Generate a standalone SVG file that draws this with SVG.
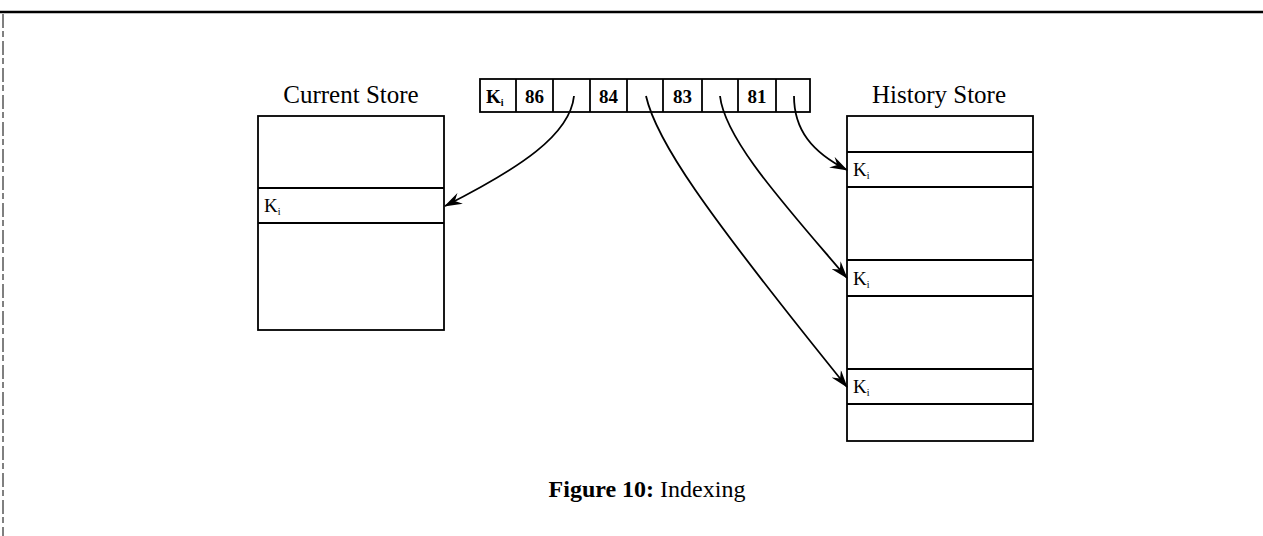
<svg xmlns="http://www.w3.org/2000/svg" width="1263" height="536" viewBox="0 0 1263 536">
<style>
.box{fill:none;stroke:#000;stroke-width:1.8}
.ln{stroke:#000;stroke-width:1.8;fill:none}
.arr{stroke:#000;stroke-width:1.8;fill:none;marker-end:url(#ah)}
.t{font-family:"Liberation Serif","Times New Roman",serif;fill:#000}
.title{font-size:25px}
.cell{font-size:19px;font-weight:bold}
.k{font-size:19px}
.sub{font-size:10px}
.cap{font-size:24px}
</style>
<defs>
<marker id="ah" viewBox="0 0 18 12" refX="17" refY="6" markerWidth="18" markerHeight="12" markerUnits="userSpaceOnUse" orient="auto">
<path d="M0,0 L18,6 L0,12 L6,6 Z" fill="#000"/>
</marker>
</defs>
<rect width="1263" height="536" fill="#fff"/>
<g id="frame">
<line x1="0" y1="12" x2="1263" y2="12" stroke="#000" stroke-width="2.5"/>
<line x1="3" y1="14" x2="3" y2="536" stroke="#000" stroke-width="1" stroke-dasharray="14,3,6,4"/>
</g>
<g id="index">
<rect class="box" x="480" y="79" width="330" height="33"/>
<line class="ln" x1="516" y1="79" x2="516" y2="112"/>
<line class="ln" x1="553" y1="79" x2="553" y2="112"/>
<line class="ln" x1="590" y1="79" x2="590" y2="112"/>
<line class="ln" x1="627" y1="79" x2="627" y2="112"/>
<line class="ln" x1="663" y1="79" x2="663" y2="112"/>
<line class="ln" x1="702" y1="79" x2="702" y2="112"/>
<line class="ln" x1="738" y1="79" x2="738" y2="112"/>
<line class="ln" x1="776" y1="79" x2="776" y2="112"/>
<text class="t cell" x="486" y="103">K<tspan class="sub" dy="3">i</tspan></text>
<text class="t cell" x="534.5" y="103" text-anchor="middle">86</text>
<text class="t cell" x="608.5" y="103" text-anchor="middle">84</text>
<text class="t cell" x="682.5" y="103" text-anchor="middle">83</text>
<text class="t cell" x="757" y="103" text-anchor="middle">81</text>
</g>
<g id="current-store">
<text class="t title" x="351" y="103" text-anchor="middle">Current Store</text>
<rect class="box" x="258" y="116" width="186" height="214"/>
<line class="ln" x1="258" y1="188" x2="444" y2="188"/>
<line class="ln" x1="258" y1="223" x2="444" y2="223"/>
<text class="t k" x="264" y="212">K<tspan class="sub" dy="3">i</tspan></text>
</g>
<g id="history-store">
<text class="t title" x="939" y="103" text-anchor="middle">History Store</text>
<rect class="box" x="847" y="116" width="186" height="325"/>
<line class="ln" x1="847" y1="152" x2="1033" y2="152"/>
<line class="ln" x1="847" y1="187" x2="1033" y2="187"/>
<line class="ln" x1="847" y1="260" x2="1033" y2="260"/>
<line class="ln" x1="847" y1="296" x2="1033" y2="296"/>
<line class="ln" x1="847" y1="369" x2="1033" y2="369"/>
<line class="ln" x1="847" y1="404" x2="1033" y2="404"/>
<text class="t k" x="853" y="176">K<tspan class="sub" dy="3">i</tspan></text>
<text class="t k" x="853" y="285">K<tspan class="sub" dy="3">i</tspan></text>
<text class="t k" x="853" y="393">K<tspan class="sub" dy="3">i</tspan></text>
</g>
<g id="connectors">
<path class="arr" d="M574,96 C570,135 520,168 445,206"/>
<path class="arr" d="M646,96 C656,140 700,205 847,387"/>
<path class="arr" d="M720,96 C725,140 785,205 847,278"/>
<path class="arr" d="M794,96 C794,130 812,152 847,170"/>
</g>
<g id="caption">
<text class="t cap" x="647" y="497" text-anchor="middle"><tspan font-weight="bold">Figure 10:</tspan>  <tspan>Indexing</tspan></text>
</g>
</svg>
